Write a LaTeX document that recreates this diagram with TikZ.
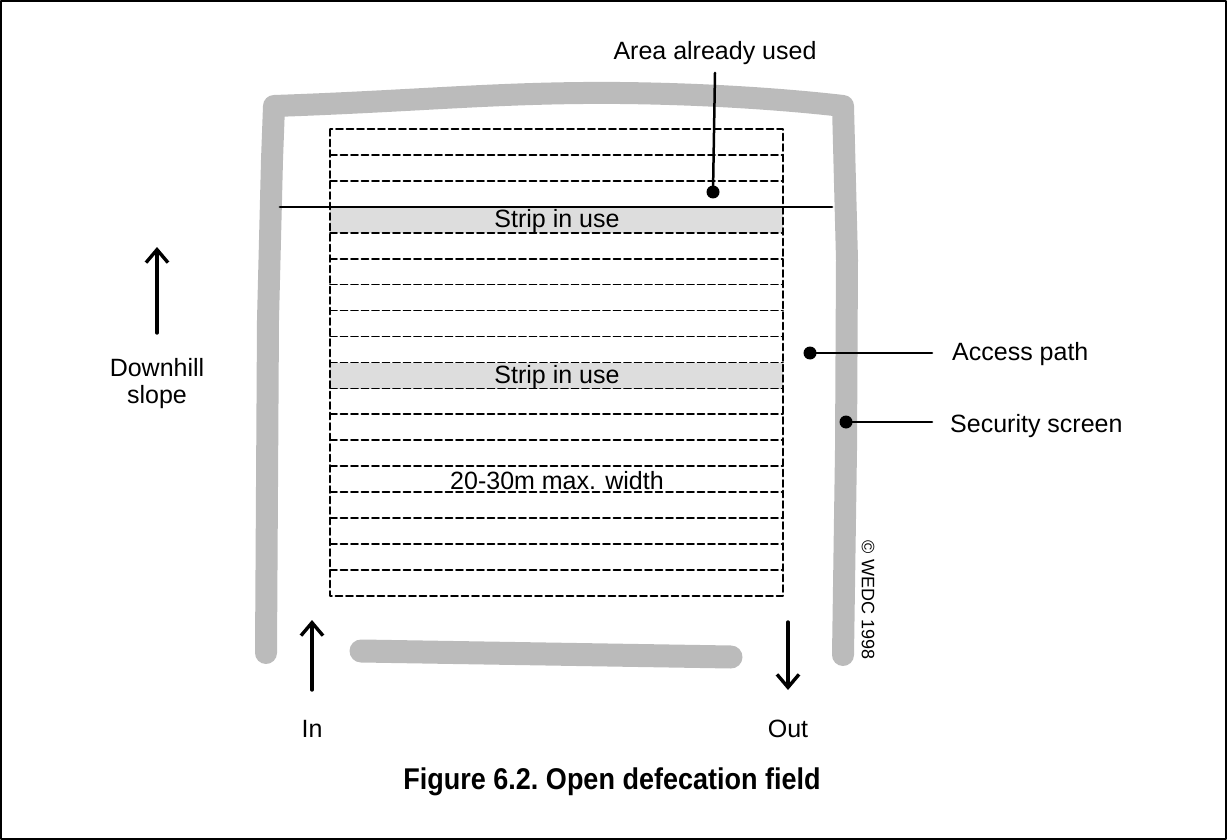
\documentclass[tikz,border=0pt]{standalone}
\usepackage{fontspec}
\setmainfont{Liberation Sans}
\newfontfamily\capfont[FakeStretch=0.9]{Liberation Sans}
\usetikzlibrary{arrows.meta}
\definecolor{screengray}{HTML}{BBBBBB}
\definecolor{stripgray}{HTML}{DDDDDD}
\tikzset{
  screen/.style={line width=22pt,screengray,line cap=round,line join=round},
  stripline/.style={line width=1.7pt,dash pattern=on 7pt off 3.5pt},
  leader/.style={line width=2.5pt},
  dot/.style={circle,fill=black,inner sep=0pt,minimum size=13pt},
  lbl/.style={font=\fontsize{25}{27}\selectfont,inner sep=0pt},
  flow/.style={line width=3.4pt,-{Straight Barb[length=13pt,width=22pt,line width=3.4pt]}}
}
\begin{document}
\begin{tikzpicture}[x=1pt,y=-1pt,line cap=round,line join=round]
  \useasboundingbox (0,0) rectangle (1227,840);
  \draw[line width=1.6pt] (1,1) rectangle (1226,839);
  % security screen
  \draw[screen] (266,653) -- (268,320) -- (272,160) -- (274,106)
    .. controls (420,101) and (500,92) .. (620,93)
    .. controls (720,94) and (800,101) .. (843,106)
    -- (847,260) -- (846,450) -- (843,655);
  \draw[screen,line width=23pt] (361,651) -- (731,657);
  % strips in use
  \fill[stripgray] (330,207) rectangle (783,233);
  \fill[stripgray] (330,363) rectangle (783,389);
  % field
  \foreach \i in {1,2,4,5,...,17}
    \draw[stripline] (330,129+\i*25.94) -- (783,129+\i*25.94);
  \draw[stripline] (330,129) rectangle (783,596);
  \draw[line width=2.8pt] (280,207) -- (832,207);
  \path (557,221) node[lbl] (strip1) {Strip in use}
        (557,377) node[lbl] (strip2) {Strip in use}
        (557,481) node[lbl] (width) {20-30m max. width};
  % leaders
  \node[lbl] (arealbl) at (715,53) {Area already used};
  \node[dot] (areadot) at (713,192) {};
  \draw[leader] (areadot.center) -- ([yshift=-8pt]arealbl.south);
  \node[lbl,anchor=west] (acclbl) at (952,354) {Access path};
  \node[dot] (accdot) at (810,353) {};
  \draw[leader] (accdot.center) -- ([xshift=-20pt]accdot -| acclbl.west);
  \node[lbl,anchor=west] (seclbl) at (950,426) {Security screen};
  \node[dot] (secdot) at (846,422) {};
  \draw[leader] (secdot.center) -- ([xshift=-18pt]secdot -| seclbl.west);
  % flow arrows
  \coordinate (slopefoot) at (157,333);
  \coordinate (slopehead) at (157,247);
  \draw[flow] (slopefoot) -- (slopehead);
  \node[lbl,align=center] (slope) at (157,384) {Downhill\\slope};
  \coordinate (infoot) at (312,690);
  \coordinate (inhead) at (312,620);
  \draw[flow] (infoot) -- (inhead);
  \node[lbl] (inlbl) at (312,729) {In};
  \coordinate (outfoot) at (788,622);
  \coordinate (outhead) at (788,690);
  \draw[flow] (outfoot) -- (outhead);
  \node[lbl] (outlbl) at (788,729) {Out};
  \node[font=\fontsize{18}{20}\selectfont,rotate=-90,inner sep=0pt] (wedc) at (868,600) {© WEDC 1998};
  % caption
  \node[font=\fontsize{30}{32}\selectfont\capfont\bfseries\frenchspacing,inner sep=0pt] (caption) at (612,782) {Figure 6.2. Open defecation field};
\end{tikzpicture}
\end{document}
